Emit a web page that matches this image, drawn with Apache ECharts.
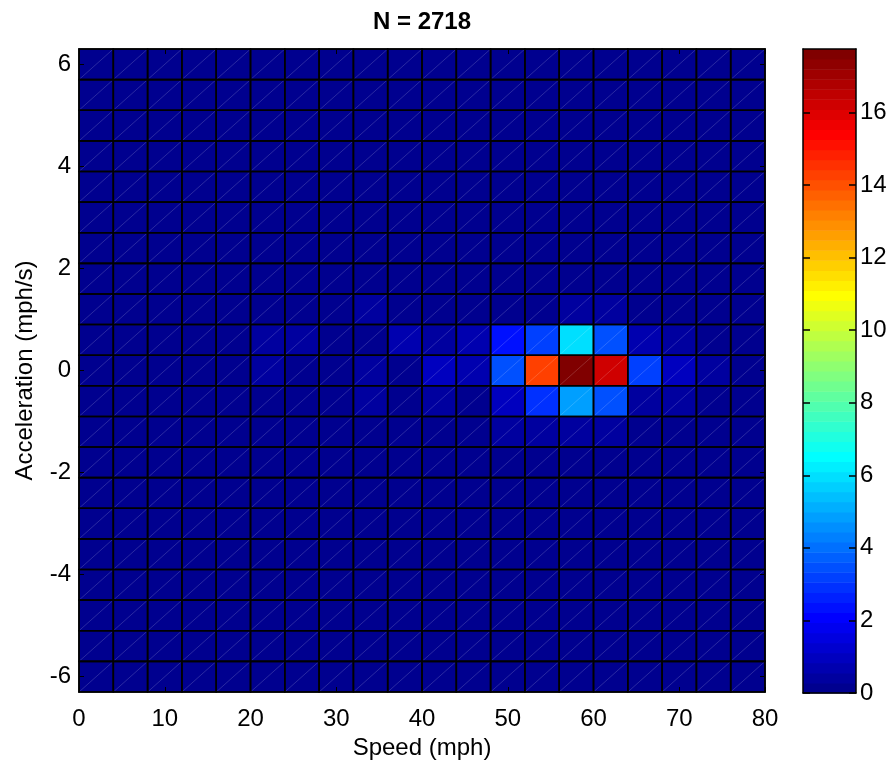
<!DOCTYPE html>
<html><head><meta charset="utf-8">
<script src="https://cdn.jsdelivr.net/npm/echarts@6/dist/echarts.min.js"></script>
<style>html,body{margin:0;padding:0;background:#fff}#c{width:891px;height:765px}</style>
</head><body><div id="c"></div>
<script>
// ---- data ----
const titleText = 'N = 2718';
const xName = 'Speed (mph)';
const yName = 'Acceleration (mph/s)';
// bin edges
const speedEdges = [0,4,8,12,16,20,24,28,32,36,40,44,48,52,56,60,64,68,72,76,80];
const accelEdges = [-6.3,-5.7,-5.1,-4.5,-3.9,-3.3,-2.7,-2.1,-1.5,-0.9,-0.3,0.3,0.9,1.5,2.1,2.7,3.3,3.9,4.5,5.1,5.7,6.3];
// tick labels
const xTicks = [0,10,20,30,40,50,60,70,80];
const yTicks = [-6,-4,-2,0,2,4,6];
const cbTicks = [0,2,4,6,8,10,12,14,16];
// percentage per cell; rows listed from top (accel 6.0) to bottom (accel -6.0), columns speed 0-4 ... 76-80
const pct = [
  [0,0,0,0,0,0,0,0,0,0,0,0,0,0,0,0,0,0,0,0],     //  6.0
  [0,0,0,0,0,0,0,0,0,0,0,0,0,0,0,0,0,0,0,0],     //  5.4
  [0,0,0,0,0,0,0,0,0,0,0,0,0,0,0,0,0,0,0,0],     //  4.8
  [0,0,0,0,0,0,0,0,0,0,0,0,0,0,0,0,0,0,0,0],     //  4.2
  [0,0,0,0,0,0,0,0,0,0,0,0,0,0,0,0,0,0,0,0],     //  3.6
  [0,0,0,0,0,0,0,0,0,0,0,0,0,0,0,0,0,0,0,0],     //  3.0
  [0,0,0,0,0,0,0,0,0,0,0,0,0,0,0,0,0,0,0,0],     //  2.4
  [0,0,0,0,0,0,0,0,0,0,0,0,0,0,0,0,0,0,0,0],     //  1.8
  [0,0,0,0,0,0,0,0,0.4,0,0,0,0,0,0.4,0.4,0,0,0,0], //  1.2
  [0,0,0,0,0,0.4,0.4,0,0,0.75,0.45,0.8,2.35,3.2,5.95,3.45,0.7,0.4,0,0], // 0.6
  [0,0,0,0,0,0.4,0,0,0.35,0,1.0,0.7,3.45,14.25,17.75,16.2,3.2,1.0,0.3,0], // 0.0
  [0,0,0,0,0,0,0,0,0.4,0,0.4,0.2,1.0,2.9,4.85,3.45,0.45,0.35,0,0], // -0.6
  [0,0,0,0,0,0,0,0,0,0,0,0,0.3,0.4,0.45,0.4,0,0,0,0], // -1.2
  [0,0,0,0,0,0,0,0,0,0,0,0,0,0,0,0,0,0,0,0],     // -1.8
  [0,0,0,0,0,0,0,0,0,0,0,0,0,0,0,0,0,0,0,0],     // -2.4
  [0,0,0,0,0,0,0,0,0,0,0,0,0,0,0,0,0,0,0,0],     // -3.0
  [0,0,0,0,0,0,0,0,0,0,0,0,0,0,0,0,0,0,0,0],     // -3.6
  [0,0,0,0,0,0,0,0,0,0,0,0,0,0,0,0,0,0,0,0],     // -4.2
  [0,0,0,0,0,0,0,0,0,0,0,0,0,0,0,0,0,0,0,0],     // -4.8
  [0,0,0,0,0,0,0,0,0,0,0,0,0,0,0,0,0,0,0,0],     // -5.4
  [0,0,0,0,0,0,0,0,0,0,0,0,0,0,0,0,0,0,0,0]      // -6.0
];

// ---- jet colormap (64 levels, MATLAB) ----
const NLEV = 64;
function jetRGB(k) { // k = 1..64
  let r = 0, g = 0, b = 0;
  if (k <= 8) b = (k + 8) / 16; else if (k <= 24) b = 1; else if (k <= 39) b = (40 - k) / 16;
  if (k >= 9 && k <= 24) g = (k - 8) / 16; else if (k >= 25 && k <= 40) g = 1; else if (k >= 41 && k <= 55) g = (56 - k) / 16;
  if (k >= 25 && k <= 40) r = (k - 24) / 16; else if (k >= 41 && k <= 56) r = 1; else if (k >= 57) r = (72 - k) / 16;
  return 'rgb(' + Math.round(r*255) + ',' + Math.round(g*255) + ',' + Math.round(b*255) + ')';
}
let cmax = 0;
pct.forEach(row => row.forEach(v => { if (v > cmax) cmax = v; }));
function colorOf(v) {
  let k = Math.floor(v / cmax * NLEV) + 1;
  if (k > NLEV) k = NLEV; if (k < 1) k = 1;
  return jetRGB(k);
}

const nRows = pct.length;
const cells = [];
pct.forEach((row, i) => row.forEach((v, c) => cells.push([c, nRows - 1 - i, v])));
const bands = [];
for (let k = 0; k < NLEV; k++) bands.push([k]);

const FONT = "'Liberation Sans', Arial, Helvetica, sans-serif";
const FS = 24;

function renderCell(params, api) {
  const c = api.value(0), r = api.value(1), v = api.value(2);
  const p0 = api.coord([speedEdges[c], accelEdges[r]]);
  const p1 = api.coord([speedEdges[c + 1], accelEdges[r + 1]]);
  const x = p0[0], y = p1[1], w = p1[0] - p0[0], h = p0[1] - p1[1];
  return { type: 'group', children: [
    { type: 'rect', shape: { x: x, y: y, width: w, height: h }, style: { fill: colorOf(v) }, z2: 1 },
    { type: 'line', shape: { x1: x, y1: y + h, x2: x + w, y2: y }, style: { stroke: 'rgba(255,255,255,0.28)', lineWidth: 0.6 }, z2: 2 },
    { type: 'rect', shape: { x: x, y: y, width: w, height: h }, style: { fill: 'none', stroke: '#000', lineWidth: 1.6 }, z2: 3 }
  ]};
}
function renderBand(params, api) {
  const k = api.value(0);
  const p0 = api.coord([0, k * cmax / NLEV]);
  const p1 = api.coord([1, (k + 1) * cmax / NLEV]);
  return { type: 'rect', shape: { x: p0[0], y: p1[1], width: p1[0] - p0[0], height: p0[1] - p1[1] + 0.5 },
    style: { fill: jetRGB(k + 1) } };
}

const lineBlack = { show: true, onZero: false, lineStyle: { color: '#000', width: 1.5 } };
const txt = { color: '#000', fontSize: FS, fontFamily: FONT };

const option = {
  backgroundColor: '#fff',
  animation: false,
  grid: [
    { left: 79, top: 49, width: 686, height: 643 },
    { left: 803, top: 49, width: 53, height: 644 }
  ],
  xAxis: [
    { gridIndex: 0, type: 'value', min: 0, max: 80, position: 'bottom', z: 10,
      axisLine: lineBlack,
      axisTick: { inside: true, length: 5, customValues: xTicks, lineStyle: { color: '#000' } },
      axisLabel: Object.assign({ customValues: xTicks, margin: 15 }, txt),
      splitLine: { show: false },
      name: xName, nameLocation: 'middle', nameGap: 41, nameTextStyle: txt },
    { gridIndex: 0, type: 'value', min: 0, max: 80, position: 'top', z: 10,
      axisLine: lineBlack,
      axisTick: { inside: true, length: 5, customValues: xTicks, lineStyle: { color: '#000' } },
      axisLabel: { show: false }, splitLine: { show: false },
      name: titleText, nameLocation: 'middle', nameGap: 15,
      nameTextStyle: { color: '#000', fontSize: FS, fontWeight: 'bold', fontFamily: FONT } },
    { gridIndex: 1, type: 'value', min: 0, max: 1, position: 'bottom', z: 10,
      axisLine: lineBlack, axisTick: { show: false }, axisLabel: { show: false }, splitLine: { show: false } },
    { gridIndex: 1, type: 'value', min: 0, max: 1, position: 'top', z: 10,
      axisLine: lineBlack, axisTick: { show: false }, axisLabel: { show: false }, splitLine: { show: false } }
  ],
  yAxis: [
    { gridIndex: 0, type: 'value', min: -6.3, max: 6.3, position: 'left', z: 10,
      axisLine: lineBlack,
      axisTick: { inside: true, length: 5, customValues: yTicks, lineStyle: { color: '#000' } },
      axisLabel: Object.assign({ customValues: yTicks, margin: 8, padding: [5, 0, 0, 0] }, txt),
      splitLine: { show: false },
      name: yName, nameLocation: 'middle', nameGap: 42, nameRotate: 90, nameTextStyle: txt },
    { gridIndex: 0, type: 'value', min: -6.3, max: 6.3, position: 'right', z: 10,
      axisLine: lineBlack,
      axisTick: { inside: true, length: 5, customValues: yTicks, lineStyle: { color: '#000' } },
      axisLabel: { show: false }, splitLine: { show: false } },
    { gridIndex: 1, type: 'value', min: 0, max: cmax, position: 'left', z: 10,
      axisLine: lineBlack,
      axisTick: { inside: true, length: 7, customValues: cbTicks, lineStyle: { color: '#000', width: 1.5 } },
      axisLabel: { show: false }, splitLine: { show: false } },
    { gridIndex: 1, type: 'value', min: 0, max: cmax, position: 'right', z: 10,
      axisLine: lineBlack,
      axisTick: { inside: true, length: 7, customValues: cbTicks, lineStyle: { color: '#000', width: 1.5 } },
      axisLabel: Object.assign({ customValues: cbTicks, margin: 4, padding: [5, 0, 0, 0] }, txt),
      splitLine: { show: false } }
  ],
  series: [
    { type: 'custom', xAxisIndex: 0, yAxisIndex: 0, renderItem: renderCell, data: cells, silent: true },
    { type: 'custom', xAxisIndex: 2, yAxisIndex: 2, renderItem: renderBand, data: bands, silent: true }
  ]
};
const chart = echarts.init(document.getElementById('c'), null, { renderer: 'canvas' });
chart.setOption(option);
</script>
</body></html>
